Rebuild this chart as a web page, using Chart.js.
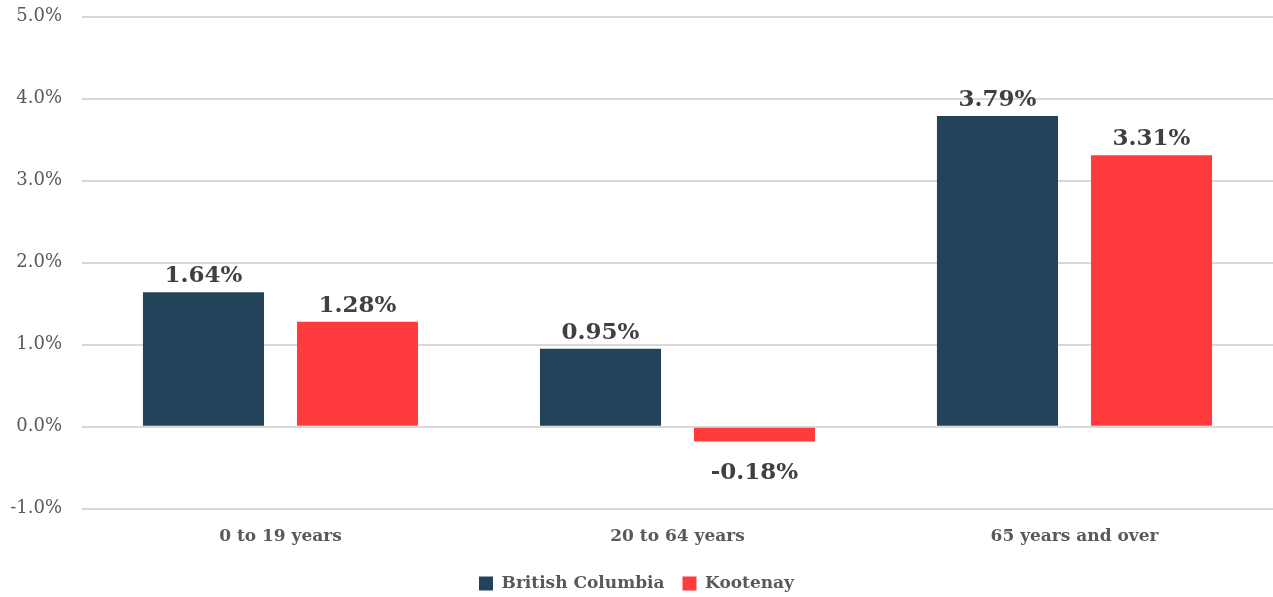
<!DOCTYPE html>
<html>
<head>
<meta charset="utf-8">
<script src="https://cdn.jsdelivr.net/npm/chart.js@4"></script>
<style>
  html, body { margin: 0; padding: 0; background: #fff; overflow: hidden; }
  #chart__wrap { position: relative; top: -14px; width: 1273px; height: 616px; }
</style>
</head>
<body>
<div id="chart__wrap"><canvas id="chart__container"></canvas></div>
<script>
const ageGroups = ['0 to 19 years', '20 to 64 years', '65 years and over'];
const britishColumbia = [1.64, 0.95, 3.79];
const kootenay = [1.28, -0.18, 3.31];
const yTicks = [-1, 0, 1, 2, 3, 4, 5];

const serif = '"DejaVu Serif", "Liberation Serif", serif';

// prints each bar's value above it (below when negative)
const valueLabels = {
  id: 'valueLabels',
  afterDatasetsDraw(chart) {
    const ctx = chart.ctx;
    ctx.save();
    ctx.font = 'bold 23px ' + serif;
    ctx.fillStyle = '#404040';
    ctx.textAlign = 'center';
    ctx.textBaseline = 'alphabetic';
    chart.data.datasets.forEach((dataset, i) => {
      chart.getDatasetMeta(i).data.forEach((bar, j) => {
        const v = dataset.data[j];
        const txt = v.toFixed(2) + '%';
        if (v >= 0) ctx.fillText(txt, bar.x, bar.y - 10);
        else ctx.fillText(txt, bar.x, bar.y + 38);
      });
    });
    ctx.restore();
  }
};

const chartConfig = {
  type: 'bar',
  data: {
    labels: ageGroups,
    datasets: [{
      label: 'British Columbia',
      data: britishColumbia,
      backgroundColor: '#22435a'
    }, {
      label: 'Kootenay',
      data: kootenay,
      backgroundColor: '#ff3b3d'
    }]
  },
  options: {
    responsive: true,
    maintainAspectRatio: false,
    animation: false,
    categoryPercentage: 0.776,
    barPercentage: 0.786,
    layout: { padding: 0 },
    plugins: {
      legend: {
        position: 'bottom',
        labels: {
          boxWidth: 14,
          boxHeight: 14,
          padding: 18,
          color: '#595959',
          font: { family: serif, size: 17, weight: 'bold' }
        }
      },
      tooltip: { enabled: false }
    },
    scales: {
      x: {
        grid: { display: false },
        border: { display: false },
        ticks: {
          color: '#595959',
          padding: 10,
          font: { family: serif, size: 17, weight: 'bold' }
        }
      },
      y: {
        min: yTicks[0],
        max: yTicks[yTicks.length - 1],
        afterBuildTicks: (axis) => { axis.ticks = yTicks.map(v => ({ value: v })); },
        afterFit: (axis) => { axis.width = 82; },
        grid: { color: '#d9d9d9', lineWidth: 2, drawTicks: false },
        border: { display: false },
        ticks: {
          color: '#595959',
          padding: 20,
          font: { family: serif, size: 18 },
          callback: (v) => v.toFixed(1) + '%'
        }
      }
    }
  },
  plugins: [valueLabels]
};

const chart = new Chart(document.getElementById('chart__container'), chartConfig);
</script>
</body>
</html>
